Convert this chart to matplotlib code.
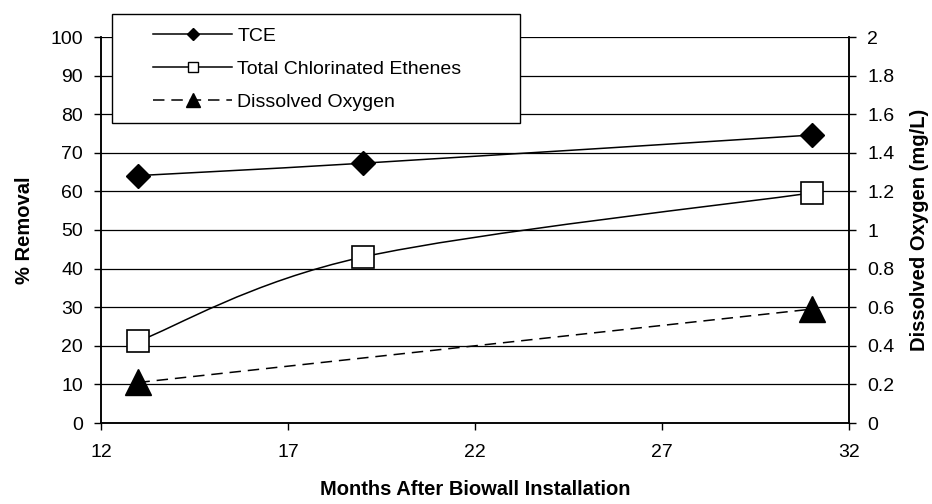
import matplotlib
matplotlib.use('Agg')
import matplotlib.pyplot as plt
from matplotlib.path import Path
from matplotlib.patches import PathPatch, Rectangle
from matplotlib.lines import Line2D

# data
months = [13, 19, 31]
tce = [64.1, 67.3, 74.6]
total_ce = [21.2, 43.0, 59.6]
do_months = [13, 31]
dissolved_oxygen = [0.21, 0.59]
x_ticks = [12, 17, 22, 27, 32]
left_ticks = list(range(0, 101, 10))
right_ticks = [0, 0.2, 0.4, 0.6, 0.8, 1, 1.2, 1.4, 1.6, 1.8, 2]
right_labels = ['0', '0.2', '0.4', '0.6', '0.8', '1', '1.2', '1.4', '1.6', '1.8', '2']
legend_labels = ['TCE', 'Total Chlorinated Ethenes', 'Dissolved Oxygen']

plt.rcParams['font.family'] = ['Liberation Sans', 'DejaVu Sans']


def smooth_path(xs, ys, t=1 / 6):
    # Excel-style smoothed line as cubic bezier through the data points
    pts = list(zip(xs, ys))
    n = len(pts)
    verts = [pts[0]]
    codes = [Path.MOVETO]
    for i in range(n - 1):
        p0 = pts[max(i - 1, 0)]
        p1 = pts[i]
        p2 = pts[i + 1]
        p3 = pts[min(i + 2, n - 1)]
        c1 = (p1[0] + (p2[0] - p0[0]) * t, p1[1] + (p2[1] - p0[1]) * t)
        c2 = (p2[0] - (p3[0] - p1[0]) * t, p2[1] - (p3[1] - p1[1]) * t)
        verts += [c1, c2, p2]
        codes += [Path.CURVE4] * 3
    return Path(verts, codes)


W, H = 932, 504
fig = plt.figure(figsize=(W / 100, H / 100), dpi=100)
ax = fig.add_axes([101 / W, 1 - 423 / H, (849 - 101) / W, (423 - 37) / H])
ax2 = ax.twinx()

lw = 1.1
ax.add_patch(PathPatch(smooth_path(months, tce), fill=False, edgecolor='black', lw=lw, zorder=3))
ax.add_patch(PathPatch(smooth_path(months, total_ce), fill=False, edgecolor='black', lw=lw, zorder=3))
ax.plot(months, tce, linestyle='none', marker='D', markersize=12.5,
        markerfacecolor='black', markeredgecolor='black', zorder=4)
ax.plot(months, total_ce, linestyle='none', marker='s', markersize=15.5,
        markerfacecolor='white', markeredgecolor='black', markeredgewidth=1.2, zorder=4)
ax2.plot(do_months, dissolved_oxygen, color='black', lw=lw, dashes=(7.5, 4.5),
         marker='^', markersize=19, markerfacecolor='black', markeredgecolor='black')

ax.set_xlim(12, 32)
ax.set_ylim(0, 100)
ax2.set_ylim(0, 2)
ax.set_xticks(x_ticks)
ax.set_yticks(left_ticks)
ax2.set_yticks(right_ticks)
ax2.set_yticklabels(right_labels)
ax.grid(axis='y', color='black', lw=0.9)
ax.set_axisbelow(True)

for a in (ax, ax2):
    a.spines['top'].set_visible(False)
    for s in a.spines.values():
        s.set_linewidth(1.1)
    a.tick_params(direction='out', length=5, width=1.0, labelsize=14, pad=8)
ax.tick_params(axis='x', pad=10)

ax.set_xlabel('Months After Biowall Installation', fontsize=14.5, fontweight='bold', labelpad=14)
ax.set_ylabel('% Removal', fontsize=14.5, fontweight='bold', labelpad=12)
ax2.set_ylabel('Dissolved Oxygen (mg/L)', fontsize=14.5, fontweight='bold', labelpad=11)

# legend box drawn separately so the entries can sit inset like the original
fig.patches.append(Rectangle((112 / W, 1 - 123 / H), 408 / W, 109 / H, transform=fig.transFigure,
                             facecolor='white', edgecolor='black', lw=1.0, zorder=4))
handles = [
    Line2D([], [], color='black', lw=lw, marker='D', markersize=12.5, markerfacecolor='black'),
    Line2D([], [], color='black', lw=lw, marker='s', markersize=15.5, markerfacecolor='white'),
    Line2D([], [], color='black', lw=lw, dashes=(7.5, 4.5), marker='^', markersize=19,
           markerfacecolor='black'),
]
leg = fig.legend(handles, legend_labels, loc='upper left',
                 bbox_to_anchor=(153 / W, 1 - 27 / H), frameon=False,
                 fontsize=14, handlelength=4.07, handletextpad=0.26,
                 markerscale=0.5, labelspacing=0.8, borderaxespad=0, borderpad=0)
leg.set_zorder(5)

plt.savefig('out.png', dpi=100)
